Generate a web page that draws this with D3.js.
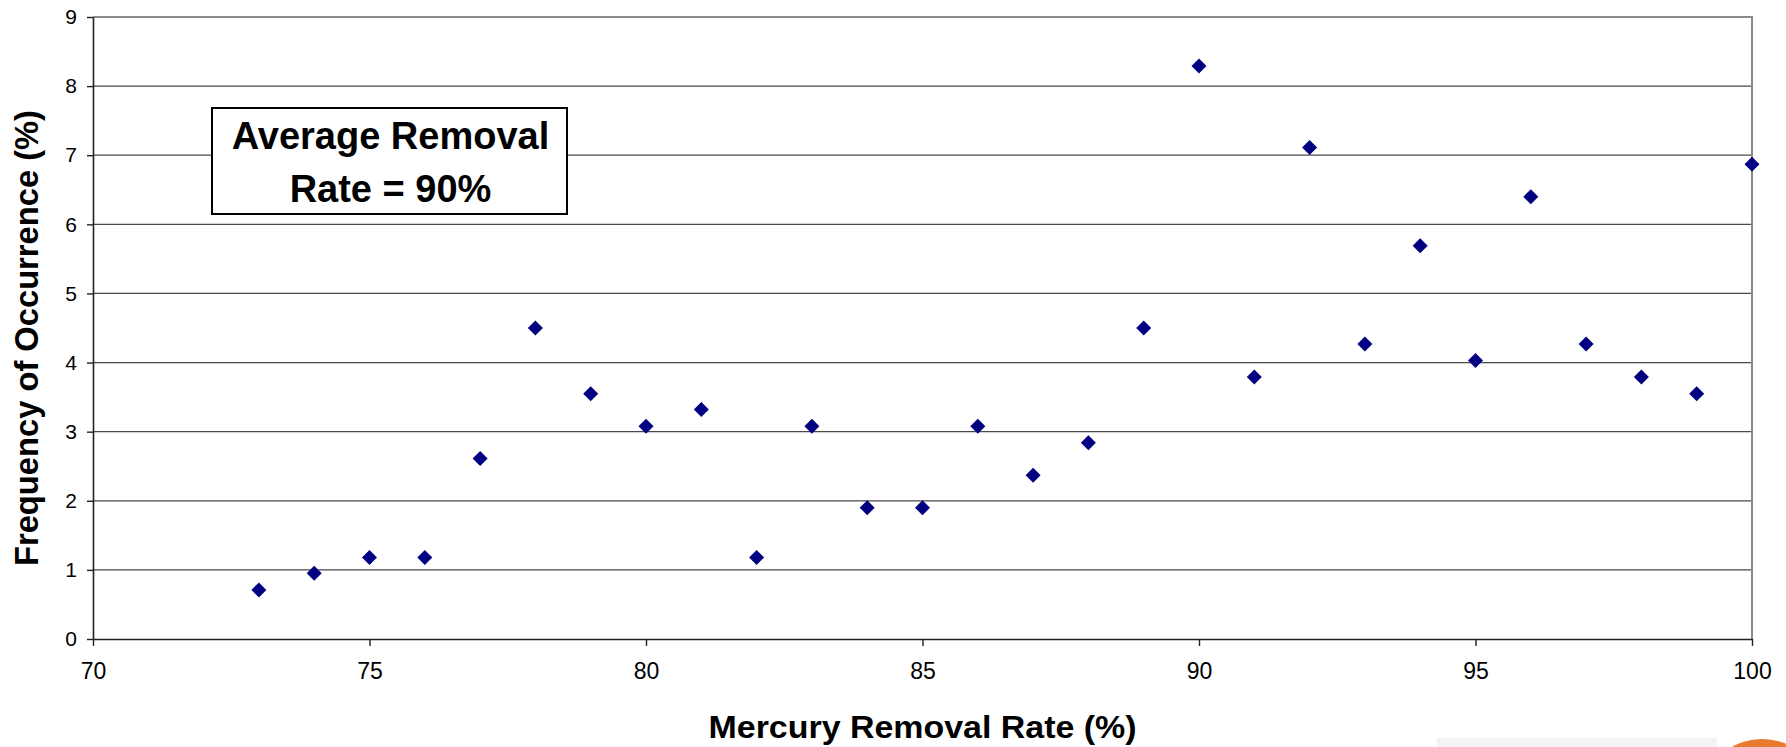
<!DOCTYPE html>
<html>
<head>
<meta charset="utf-8">
<script src="https://cdn.jsdelivr.net/npm/d3@7"></script>
<style>
  html, body { margin: 0; padding: 0; background: #fff; }
  svg { display: block; }
  text { font-family: "Liberation Sans", Arial, sans-serif; }
</style>
</head>
<body>
<svg id="chart" width="1786" height="747"></svg>
<script>
// ---- data ----
const removalRates = [73, 74, 75, 76, 77, 78, 79, 80, 81, 82, 83, 84, 85, 86,
                      87, 88, 89, 90, 91, 92, 93, 94, 95, 96, 97, 98, 99, 100];
const frequencies  = [0.71, 0.95, 1.18, 1.18, 2.61, 4.50, 3.55, 3.08, 3.32, 1.18, 3.08, 1.90, 1.90, 3.08,
                      2.37, 2.84, 4.50, 8.29, 3.79, 7.11, 4.27, 5.69, 4.03, 6.40, 4.27, 3.79, 3.55, 6.87];
const xTicks = [70, 75, 80, 85, 90, 95, 100];
const yTicks = [0, 1, 2, 3, 4, 5, 6, 7, 8, 9];
const xTitle = "Mercury Removal Rate (%)";
const yTitle = "Frequency of Occurrence (%)";
const noteLines = ["Average Removal", "Rate = 90%"];

(function () {
  // ---- layout ----
  const pl = 93, pr = 1752, pt = 17, pb = 639;
  const svg = d3.select("#chart");

  const x = d3.scaleLinear().domain([70, 100]).range([pl, pr]);
  const y = d3.scaleLinear().domain([0, 9]).range([pb, pt]);

  // gridlines
  svg.append("g")
    .selectAll("line")
    .data(yTicks.filter(d => d > 0 && d < 9))
    .join("line")
    .attr("x1", pl).attr("x2", pr)
    .attr("y1", d => y(d)).attr("y2", d => y(d))
    .attr("stroke", "#4a4a4a").attr("stroke-width", 1.3);

  // plot border top/right (gray)
  svg.append("path")
    .attr("d", `M${pl},${pt}H${pr}V${pb}`)
    .attr("fill", "none").attr("stroke", "#8a8a8a").attr("stroke-width", 2);

  // axes
  const yAxis = svg.append("g")
    .attr("transform", `translate(${pl},0)`)
    .call(d3.axisLeft(y).tickValues(yTicks).tickSize(6).tickSizeOuter(0).tickPadding(10));
  const xAxis = svg.append("g")
    .attr("transform", `translate(0,${pb})`)
    .call(d3.axisBottom(x).tickValues(xTicks).tickSize(7).tickSizeOuter(0).tickPadding(17));

  [yAxis, xAxis].forEach(g => {
    g.select(".domain").attr("stroke", "#222").attr("stroke-width", 1.6);
    g.selectAll(".tick line").attr("stroke", "#222").attr("stroke-width", 1.4);
    g.selectAll(".tick text").attr("fill", "#000")
      .style("font-family", '"Liberation Sans", Arial, sans-serif');
  });
  yAxis.selectAll(".tick text").style("font-size", "21px");
  xAxis.selectAll(".tick text").style("font-size", "23px");

  // markers (diamonds)
  const r = 7.5;
  svg.append("g")
    .selectAll("path")
    .data(removalRates.map((v, i) => [v, frequencies[i]]))
    .join("path")
    .attr("transform", d => `translate(${x(d[0])},${y(d[1])})`)
    .attr("d", `M0,${-r}L${r},0L0,${r}L${-r},0Z`)
    .attr("fill", "#000080");

  // axis titles
  svg.append("text")
    .attr("x", (pl + pr) / 2).attr("y", 738)
    .attr("text-anchor", "middle")
    .attr("font-size", 31).attr("font-weight", "bold")
    .attr("textLength", 428).attr("lengthAdjust", "spacingAndGlyphs")
    .text(xTitle);

  svg.append("text")
    .attr("transform", `translate(38,338) rotate(-90)`)
    .attr("text-anchor", "middle")
    .attr("font-size", 33).attr("font-weight", "bold")
    .attr("textLength", 456).attr("lengthAdjust", "spacingAndGlyphs")
    .text(yTitle);

  // annotation box
  const bx0 = 212, bx1 = 567, by0 = 108, by1 = 214;
  svg.append("rect")
    .attr("x", bx0).attr("y", by0).attr("width", bx1 - bx0).attr("height", by1 - by0)
    .attr("fill", "#fff").attr("stroke", "#000").attr("stroke-width", 2);
  svg.append("g").selectAll("text")
    .data(noteLines)
    .join("text")
    .attr("x", (bx0 + bx1) / 2 + 1)
    .attr("y", (d, i) => 149 + i * 53)
    .attr("text-anchor", "middle")
    .attr("font-size", 38).attr("font-weight", "bold")
    .text(d => d);

  // corner decoration (slide artifacts)
  svg.append("rect").attr("x", 1437).attr("y", 738).attr("width", 280).attr("height", 9).attr("fill", "#f3f3f3");
  svg.append("ellipse").attr("cx", 1762).attr("cy", 778).attr("rx", 50).attr("ry", 39).attr("fill", "#ea7a2e");
})();
</script>
</body>
</html>
